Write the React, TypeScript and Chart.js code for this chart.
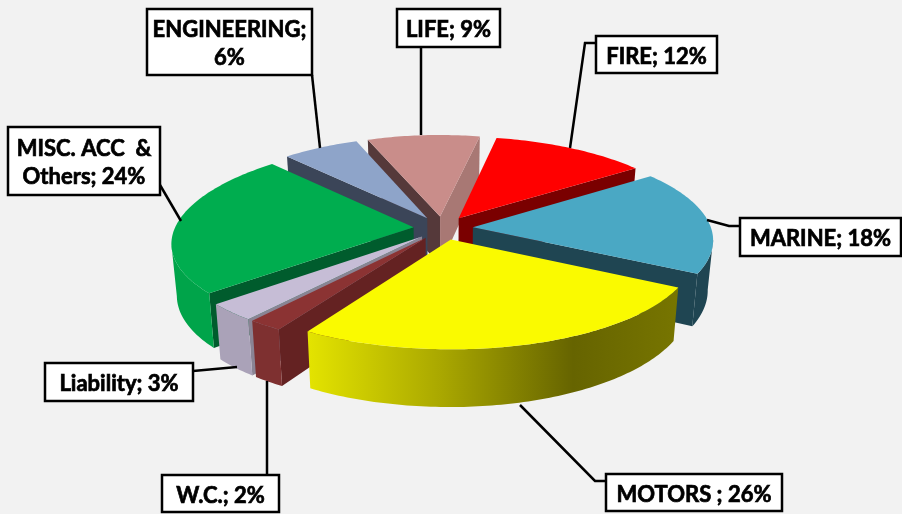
import React, { useEffect, useRef } from "react";
import { Chart, registerables } from "chart.js";

Chart.register(...registerables);

const categories = ["FIRE", "MARINE", "MOTORS", "W.C.", "Liability", "MISC. ACC & Others", "ENGINEERING", "LIFE"];
const shares = [12, 18, 26, 2, 3, 24, 6, 9];
const labelLines = [
  ["FIRE; 12%"],
  ["MARINE; 18%"],
  ["MOTORS ; 26%"],
  ["W.C.; 2%"],
  ["Liability; 3%"],
  ["MISC. ACC  &", "Others; 24%"],
  ["ENGINEERING;", "6%"],
  ["LIFE; 9%"],
];
const topColors = ["#ff0000", "#4aa8c4", "#fafa00", "#8b3333", "#c6bdd6", "#00ad4f", "#8ea4c9", "#c98d8a"];
const rimColors = ["#7a0000", "#1f4552", "#888600", "#7e3030", "#aaa2b8", "#00a44a", "#3b4558", "#a87874"];
const startFaceColors = ["#7a0000", "#1f4552", "#888600", "#642222", "#8a8494", "#005c2d", "#3b4558", "#55393a"];
const endFaceColors = ["#7a0000", "#1f4552", "#888600", "#642222", "#8a8494", "#005c2d", "#3b4558", "#a87874"];

// [box left, top, right, bottom], then the leader polyline
const boxes = [
  [596, 36, 717, 73],
  [740, 218, 901, 256],
  [606, 474, 782, 511],
  [162, 475, 279, 512],
  [45, 363, 193, 401],
  [8, 127, 160, 195],
  [147, 9, 312, 75],
  [397, 9, 500, 47],
];
const leaders = [
  [[596, 43], [585, 43], [570, 148]],
  [[740, 226], [729, 226], [707, 220]],
  [[606, 481], [595, 481], [520, 405]],
  [[267, 475], [267, 381]],
  [[193, 371], [237, 367]],
  [[160, 185], [181, 221]],
  [[312, 75], [320, 148]],
  [[421, 47], [421, 135]],
];

const VIEW = {
  cx: 443, cy: 228, ratio: 0.39, dist: 2000, shear: 0.06, tilt: 0.025,
  depth: 50, taper: 0.98, explode: 30, leftScale: 0.98, leftSkew: 0.00018,
};

function project(X: number, Y: number) {
  const s = 1 / (1 - Y / VIEW.dist);
  let sx = X * s;
  if (X < 0) sx = sx * VIEW.leftScale + VIEW.leftSkew * X * Y;
  return { x: VIEW.cx + sx - Y * VIEW.shear, y: VIEW.cy + Y * VIEW.ratio * s + X * VIEW.tilt, s };
}

type P = { x: number; y: number; s: number };
const lower = (p: P) => ({
  x: VIEW.cx + (p.x - VIEW.cx) * VIEW.taper,
  y: p.y + VIEW.depth * p.s,
});

function fillPoly(ctx: CanvasRenderingContext2D, pts: { x: number; y: number }[], fill: string | CanvasGradient) {
  ctx.beginPath();
  pts.forEach((p, i) => (i ? ctx.lineTo(p.x, p.y) : ctx.moveTo(p.x, p.y)));
  ctx.closePath();
  ctx.fillStyle = fill;
  ctx.fill();
}

function drawFace(ctx: CanvasRenderingContext2D, run: P[], fill: string | CanvasGradient) {
  const back = run.map(lower).reverse();
  fillPoly(ctx, [...run, ...back], fill);
}

const pie3d = {
  id: "pie3d",
  beforeDatasetDraw(chart: any) {
    const ctx: CanvasRenderingContext2D = chart.ctx;
    const meta = chart.getDatasetMeta(0);
    const slices = meta.data.map((el: any, i: number) => {
      const { startAngle, endAngle, outerRadius } = el.getProps(["startAngle", "endAngle", "outerRadius"], true);
      const mid = (startAngle + endAngle) / 2;
      return { i, startAngle, endAngle, outerRadius, mid };
    });
    slices.sort((a: any, b: any) => Math.sin(a.mid) - Math.sin(b.mid));

    for (const sl of slices) {
      const ox = Math.cos(sl.mid) * VIEW.explode;
      const oy = Math.sin(sl.mid) * VIEW.explode;
      const apex = project(ox, oy);
      const steps = Math.max(4, Math.ceil(((sl.endAngle - sl.startAngle) * 180) / Math.PI));
      const arc: P[] = [];
      for (let k = 0; k <= steps; k++) {
        const a = sl.startAngle + ((sl.endAngle - sl.startAngle) * k) / steps;
        arc.push(project(ox + Math.cos(a) * sl.outerRadius, oy + Math.sin(a) * sl.outerRadius));
      }
      const first = arc[0];
      const last = arc[arc.length - 1];

      // cut faces: visible when the clockwise edge runs leftwards on screen
      if (first.x < apex.x) drawFace(ctx, [apex, first], startFaceColors[sl.i]);
      if (apex.x < last.x) drawFace(ctx, [last, apex], endFaceColors[sl.i]);

      // outer rim
      let rimFill: string | CanvasGradient = rimColors[sl.i];
      if (categories[sl.i] === "MOTORS") {
        const g = ctx.createLinearGradient(303, 0, 678, 0);
        g.addColorStop(0, "#e6e600");
        g.addColorStop(0.365, "#aaa800");
        g.addColorStop(0.72, "#666400");
        g.addColorStop(1, "#777500");
        rimFill = g;
      }
      let run: P[] = [];
      for (let k = 1; k < arc.length; k++) {
        if (arc[k].x < arc[k - 1].x) {
          if (!run.length) run.push(arc[k - 1]);
          run.push(arc[k]);
        } else if (run.length) {
          drawFace(ctx, run, rimFill);
          run = [];
        }
      }
      if (run.length) drawFace(ctx, run, rimFill);

      // top surface
      fillPoly(ctx, [apex, ...arc], topColors[sl.i]);
    }
    return false;
  },
  afterDatasetsDraw(chart: any) {
    const ctx: CanvasRenderingContext2D = chart.ctx;
    ctx.save();
    ctx.strokeStyle = "#000";
    ctx.lineJoin = "miter";
    leaders.forEach((line) => {
      ctx.lineWidth = 2.5;
      ctx.beginPath();
      line.forEach(([x, y], i) => (i ? ctx.lineTo(x, y) : ctx.moveTo(x, y)));
      ctx.stroke();
    });
    ctx.font = "bold 22px Lato";
    ctx.textAlign = "center";
    ctx.textBaseline = "middle";
    boxes.forEach(([l, t, r, b], i) => {
      ctx.fillStyle = "#fff";
      ctx.fillRect(l, t, r - l, b - t);
      ctx.lineWidth = 2.5;
      ctx.strokeRect(l, t, r - l, b - t);
      ctx.fillStyle = "#000";
      ctx.lineWidth = 0.7;
      const lines = labelLines[i];
      const lh = 28;
      const y0 = (t + b) / 2 - ((lines.length - 1) * lh) / 2;
      lines.forEach((s, j) => {
        ctx.fillText(s, (l + r) / 2, y0 + j * lh + 2);
        ctx.strokeText(s, (l + r) / 2, y0 + j * lh + 2);
      });
    });
    ctx.restore();
  },
};

export default function App() {
  const ref = useRef<HTMLCanvasElement>(null);
  useEffect(() => {
    document.body.style.margin = "0";
    document.body.style.background = "#f2f2f2";
    const chart = new Chart(ref.current!, {
      type: "pie",
      data: {
        labels: categories,
        datasets: [{ data: shares, backgroundColor: topColors, borderWidth: 0 }],
      },
      options: {
        responsive: false,
        animation: false,
        rotation: 6.8,
        radius: 240,
        layout: { padding: 0 },
        plugins: { legend: { display: false }, tooltip: { enabled: false } },
      },
      plugins: [pie3d],
    } as any);
    return () => chart.destroy();
  }, []);
  return (
    <div style={{ position: "absolute", left: 0, top: 0, width: 902, height: 514, background: "#f2f2f2" }}>
      <canvas ref={ref} width={902} height={514} style={{ display: "block" }} />
    </div>
  );
}
